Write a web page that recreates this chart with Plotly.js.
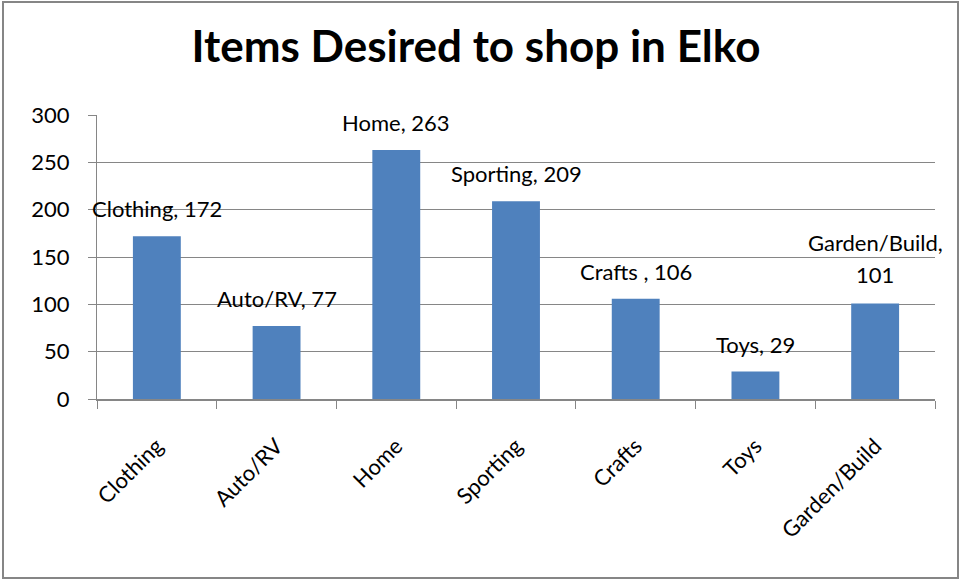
<!DOCTYPE html>
<html>
<head>
<meta charset="utf-8">
<script src="https://cdn.plot.ly/plotly-3.0.1.min.js"></script>
<style>
  html, body { margin: 0; padding: 0; background: #fff; }
  #chart { width: 961px; height: 579px; }
</style>
</head>
<body>
<div id="chart"></div>
<script>
// ---- data ----
const categories = ["Clothing", "Auto/RV", "Home", "Sporting", "Crafts", "Toys", "Garden/Build"];
const values = [172, 77, 263, 209, 106, 29, 101];
const labelNames = ["Clothing", "Auto/RV", "Home", "Sporting", "Crafts ", "Toys", "Garden/Build"];
const yTicks = [0, 50, 100, 150, 200, 250, 300];
const chartTitle = "Items Desired to shop in Elko";

// ---- layout geometry (pixels) ----
const W = 961, H = 579;
const M = { l: 97, r: 26, t: 115, b: 180 };
const pw = W - M.l - M.r, ph = H - M.t - M.b;
const px = (x) => (x - M.l) / pw;
const py = (y) => (H - M.b - y) / ph;

const FONT = "Lato, 'Liberation Sans', sans-serif";
const GRAY = "#868686";
const FS = 22;

const annotations = [];
categories.forEach((c, i) => {
  const name = labelNames[i];
  const full = name + ", " + values[i];
  if (full.length > 16) {
    annotations.push({
      x: c, y: values[i], xref: "x", yref: "y", text: String(values[i]),
      showarrow: false, yanchor: "bottom", yshift: 13,
      font: { family: FONT, size: FS, color: "#000" }
    });
    annotations.push({
      x: c, y: values[i], xref: "x", yref: "y", text: name + ",",
      showarrow: false, yanchor: "bottom", yshift: 45,
      font: { family: FONT, size: FS, color: "#000" }
    });
  } else {
    annotations.push({
      x: c, y: values[i], xref: "x", yref: "y", text: full,
      showarrow: false, yanchor: "bottom", yshift: 12,
      font: { family: FONT, size: FS, color: "#000" }
    });
  }
});

const trace = {
  type: "bar",
  x: categories,
  y: values,
  marker: { color: "#4F81BD" },
  width: 0.4,
  hoverinfo: "x+y"
};

const layout = {
  width: W, height: H,
  margin: M,
  paper_bgcolor: "#fff",
  plot_bgcolor: "#fff",
  showlegend: false,
  title: {
    text: "<b>" + chartTitle + "</b>",
    font: { family: FONT, size: 44, color: "#000" },
    x: 476 / W, xref: "container", xanchor: "center",
    y: 1 - 47 / H, yref: "container", yanchor: "middle",
    automargin: false
  },
  font: { family: FONT, size: FS, color: "#000" },
  xaxis: {
    type: "category",
    range: [-0.5, categories.length - 0.5],
    automargin: false,
    showgrid: false,
    showline: true, linecolor: GRAY, linewidth: 1.5,
    ticks: "outside", tickson: "boundaries", ticklen: 8, tickcolor: GRAY, tickwidth: 1,
    tickangle: -45,
    ticklabelstandoff: 24,
    tickfont: { family: FONT, size: FS, color: "#000" },
    fixedrange: true
  },
  yaxis: {
    automargin: false,
    range: [0, 300],
    tickvals: yTicks,
    ticktext: yTicks.map(String),
    showgrid: true, gridcolor: GRAY, gridwidth: 1,
    showline: true, linecolor: GRAY, linewidth: 1,
    zeroline: false,
    ticks: "outside", ticklen: 8, tickcolor: GRAY,
    ticklabelstandoff: 14,
    tickfont: { family: FONT, size: FS, color: "#000" },
    fixedrange: true
  },
  annotations: annotations,
  shapes: [{
    type: "rect", xref: "paper", yref: "paper",
    x0: px(3), x1: px(958), y0: py(578), y1: py(2),
    line: { color: GRAY, width: 2 }, fillcolor: "rgba(0,0,0,0)", layer: "below"
  }],
  bargap: 0.6
};

Plotly.newPlot("chart", [trace], layout, { displayModeBar: false, staticPlot: true });
</script>
</body>
</html>
